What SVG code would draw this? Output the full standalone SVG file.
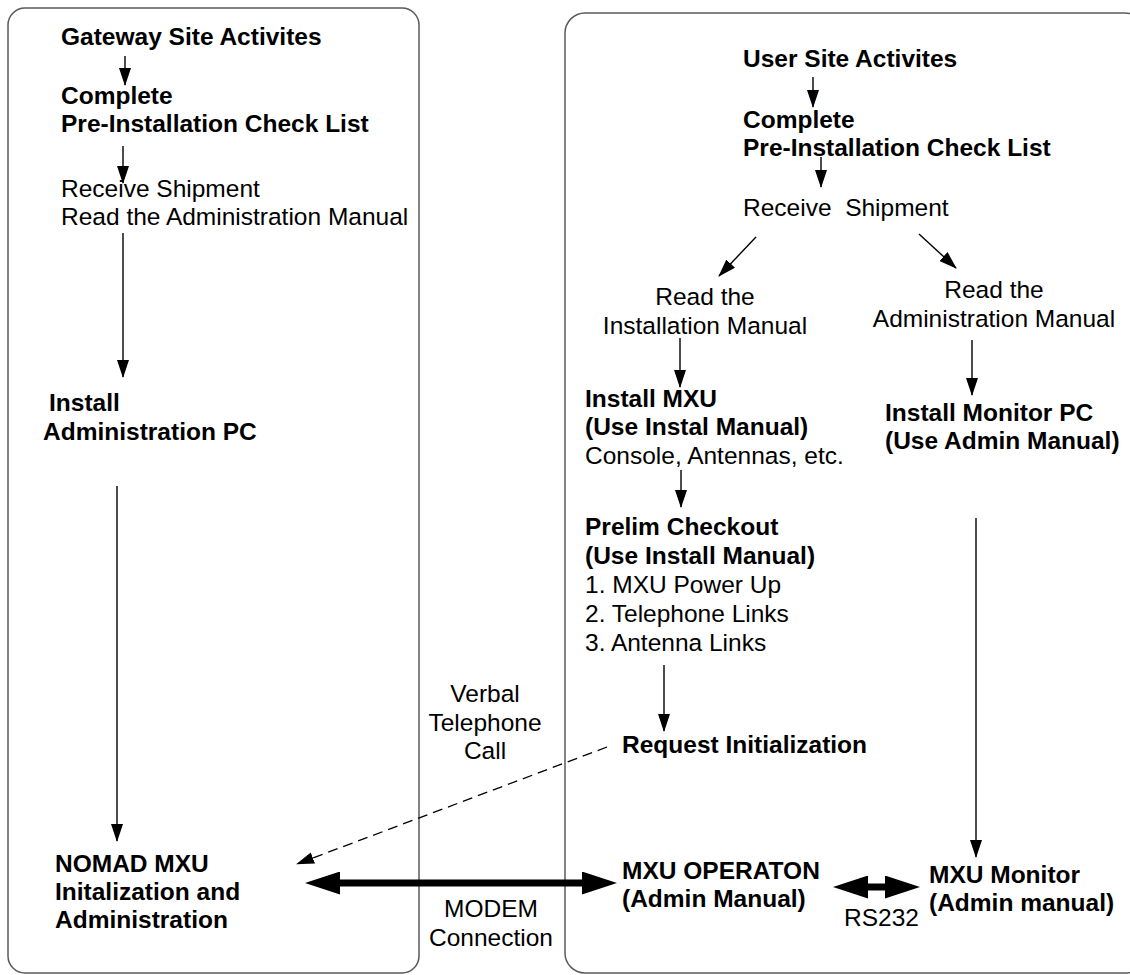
<svg xmlns="http://www.w3.org/2000/svg" width="1130" height="975" viewBox="0 0 1130 975">
<style>
text{font-family:"Liberation Sans",Arial,Helvetica,sans-serif;font-size:24.5px;fill:#000}
.b{font-weight:bold}
.c{text-anchor:middle}
.box{fill:none;stroke:#5a5a5a;stroke-width:1.5}
.ln{fill:none;stroke:#000;stroke-width:1.4;marker-end:url(#ah)}
.dash{fill:none;stroke:#000;stroke-width:1.3;stroke-dasharray:10,6;marker-end:url(#ah)}
.thick{fill:none;stroke:#000;stroke-width:7;marker-start:url(#big);marker-end:url(#big)}
</style>
<defs>
<marker id="ah" markerUnits="userSpaceOnUse" viewBox="0 0 18 12" refX="17" refY="6" markerWidth="18" markerHeight="12" orient="auto">
<path d="M0,0 L18,6 L0,12 z" fill="#000"/>
</marker>
<marker id="big" markerUnits="userSpaceOnUse" viewBox="0 0 35 23" refX="5" refY="11.5" markerWidth="35" markerHeight="23" orient="auto-start-reverse">
<path d="M0,0 L35,11.5 L0,23 z" fill="#000"/>
</marker>
</defs>

<g id="gateway-site">
<rect class="box" x="8" y="8" width="411" height="965" rx="17" ry="17"/>
</g>
<g id="user-site">
<rect class="box" x="565" y="13" width="580" height="960" rx="20" ry="20"/>
</g>

<g id="gw-title"><text class="b" x="61" y="45">Gateway Site Activites</text></g>
<g id="gw-checklist"><text class="b" x="61" y="104">Complete</text><text class="b" x="61" y="132">Pre-Installation Check List</text></g>
<g id="gw-receive"><text x="61" y="197">Receive Shipment</text><text x="61" y="225">Read the Administration Manual</text></g>
<g id="gw-install-pc"><text class="b" x="49" y="411">Install</text><text class="b" x="43" y="440">Administration PC</text></g>
<g id="nomad-mxu"><text class="b" x="55" y="872">NOMAD MXU</text><text class="b" x="55" y="900">Initalization and</text><text class="b" x="55" y="928">Administration</text></g>

<g id="verbal-call-label"><text class="c" x="485" y="702">Verbal</text><text class="c" x="485" y="731">Telephone</text><text class="c" x="485" y="759">Call</text></g>
<g id="modem-label"><text class="c" x="491" y="917">MODEM</text><text class="c" x="491" y="946">Connection</text></g>

<g id="user-title"><text class="b" x="743" y="67">User Site Activites</text></g>
<g id="user-checklist"><text class="b" x="743" y="128">Complete</text><text class="b" x="743" y="156">Pre-Installation Check List</text></g>
<g id="user-receive"><text x="743" y="216" xml:space="preserve">Receive  Shipment</text></g>
<g id="read-install-manual"><text class="c" x="705" y="305">Read the</text><text class="c" x="705" y="334">Installation Manual</text></g>
<g id="read-admin-manual"><text class="c" x="994" y="298">Read the</text><text class="c" x="994" y="327">Administration Manual</text></g>
<g id="install-mxu"><text class="b" x="585" y="407">Install MXU</text><text class="b" x="585" y="435">(Use Instal Manual)</text><text x="585" y="464">Console, Antennas, etc.</text></g>
<g id="install-monitor-pc"><text class="b" x="885" y="421">Install Monitor PC</text><text class="b" x="885" y="449">(Use Admin Manual)</text></g>
<g id="prelim-checkout"><text class="b" x="585" y="535">Prelim Checkout</text><text class="b" x="585" y="564">(Use Install Manual)</text><text x="585" y="593">1. MXU Power Up</text><text x="585" y="622">2. Telephone Links</text><text x="585" y="651">3. Antenna Links</text></g>
<g id="request-init"><text class="b" x="622" y="753">Request Initialization</text></g>
<g id="mxu-operation"><text class="b" x="622" y="879">MXU OPERATON</text><text class="b" x="622" y="907">(Admin Manual)</text></g>
<g id="mxu-monitor"><text class="b" x="929" y="883">MXU Monitor</text><text class="b" x="929" y="911">(Admin manual)</text></g>
<g id="rs232-label"><text x="844" y="926">RS232</text></g>

<g id="connectors">
<path class="ln" d="M125,56 L125,85"/>
<path class="ln" d="M123,146 L123,183"/>
<path class="ln" d="M123,233 L123,377"/>
<path class="ln" d="M117,486 L117,841"/>
<path class="ln" d="M813,77 L813,107"/>
<path class="ln" d="M821,157 L821,187"/>
<path class="ln" d="M756,237 L719,276"/>
<path class="ln" d="M919,234 L956,268"/>
<path class="ln" d="M680,338 L680,387"/>
<path class="ln" d="M972,340 L972,395"/>
<path class="ln" d="M681,470 L681,507"/>
<path class="ln" d="M664,665 L664,731"/>
<path class="ln" d="M976,518 L976,857"/>
<path class="dash" d="M607,747 L297,864"/>
<path class="thick" d="M335,883 L587,883"/>
<path class="thick" d="M863,887 L890,887"/>
</g>
</svg>
